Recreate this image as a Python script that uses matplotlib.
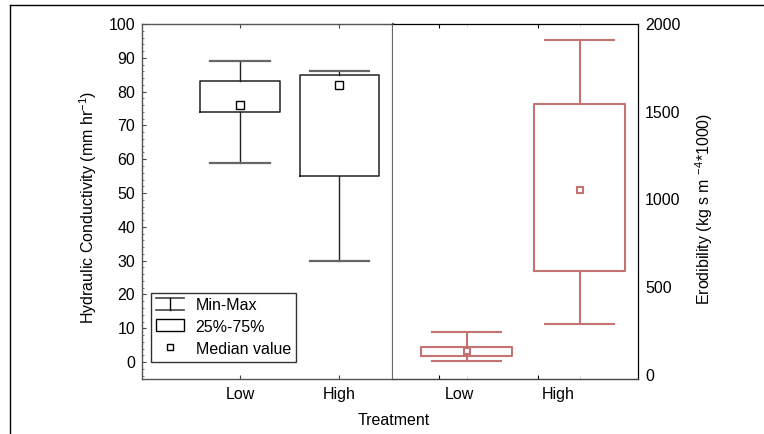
import matplotlib
matplotlib.use("Agg")
import matplotlib.pyplot as plt
from matplotlib.lines import Line2D
from matplotlib.patches import Rectangle
from matplotlib.legend_handler import HandlerBase

plt.rcParams['font.family'] = ['Liberation Sans', 'DejaVu Sans']
plt.rcParams['mathtext.fontset'] = 'custom'
plt.rcParams['mathtext.rm'] = 'Liberation Sans'
plt.rcParams['mathtext.default'] = 'regular'
FS = 11.5

# ---------------- data ----------------
categories = ['Low', 'High']
hc_min = [59, 30]
hc_q1 = [74, 55]
hc_med = [76, 82]
hc_q3 = [83, 85]
hc_max = [89, 86]

er_min = [80, 289]
er_q1 = [107, 595]
er_med = [137, 1055]
er_q3 = [160, 1544]
er_max = [243, 1909]

hc_ticks = [0, 10, 20, 30, 40, 50, 60, 70, 80, 90, 100]
er_ticks = [0, 500, 1000, 1500, 2000]

W, H = 764, 434
fig = plt.figure(figsize=(W / 100, H / 100), dpi=100)

# outer frame (top and left edges)
fig.add_artist(Line2D([10 / W, 763 / W], [1 - 5 / H, 1 - 5 / H], color='black', lw=1.0))
fig.add_artist(Line2D([10 / W, 10 / W], [1 - 5 / H, 0], color='black', lw=1.0))

bottom = (H - 379) / H
height = (379 - 24) / H
ax1 = fig.add_axes([142 / W, bottom, (393 - 142) / W, height])
ax2 = fig.add_axes([393 / W, bottom, (638 - 393) / W, height])


def stats(mn, q1, med, q3, mx):
    return [dict(whislo=a, q1=b, med=c, q3=d, whishi=e, fliers=[])
            for a, b, c, d, e in zip(mn, q1, med, q3, mx)]


# ---------------- left panel ----------------
pos = list(range(len(categories)))
BLK = '#222222'
ax1.bxp(stats(hc_min, hc_q1, hc_med, hc_q3, hc_max), positions=pos,
        widths=0.8, showfliers=False, manage_ticks=False,
        boxprops=dict(color=BLK, lw=1.1),
        whiskerprops=dict(color=BLK, lw=1.0),
        capprops=dict(color='#666666', lw=1.6),
        medianprops=dict(lw=0, alpha=0), capwidths=0.6)
ax1.plot(pos, hc_med, ls='none', marker='s', ms=5.5, mfc='white', mec='black', mew=1.0, zorder=5)
ax1.set_xlim(-0.985, 1.538)
ax1.set_ylim(-5, 100)
ax1.set_yticks(hc_ticks)
ax1.set_yticks(range(-4, 100, 2), minor=True)
ax1.set_xticks(pos)
ax1.set_xticklabels(categories, fontsize=FS)
ax1.tick_params(axis='y', which='major', direction='in', length=3, labelsize=FS, pad=5, color='#444444')
ax1.tick_params(axis='y', which='minor', direction='in', length=1.5, color='#666666')
ax1.tick_params(axis='x', which='major', direction='in', length=3, top=True, pad=6, color='#444444')
for s in ['left', 'top', 'bottom']:
    ax1.spines[s].set_color('#555555')
    ax1.spines[s].set_linewidth(1.0)
ax1.spines['right'].set_color('#666666')
ax1.spines['right'].set_linewidth(1.6)


# legend with custom handles
class MinMaxHandle:
    pass


class BoxHandle:
    pass


class MedHandle:
    pass


class HMinMax(HandlerBase):
    def create_artists(self, legend, orig, x0, y0, w, h, fontsize, trans):
        cx = x0 + w / 2
        return [Line2D([x0, x0 + w], [y0 + h, y0 + h], color='#444444', lw=1.2, transform=trans),
                Line2D([x0, x0 + w], [y0, y0], color='#444444', lw=1.2, transform=trans),
                Line2D([cx, cx], [y0, y0 + h], color='black', lw=1.0, transform=trans)]


class HBox(HandlerBase):
    def create_artists(self, legend, orig, x0, y0, w, h, fontsize, trans):
        return [Rectangle((x0, y0), w, h, fc='white', ec='black', lw=1.0, transform=trans)]


class HMed(HandlerBase):
    def create_artists(self, legend, orig, x0, y0, w, h, fontsize, trans):
        return [Line2D([x0 + w / 2], [y0 + h / 2], ls='none', marker='s', ms=5,
                       mfc='white', mec='black', mew=1.0, transform=trans)]


leg = ax1.legend([MinMaxHandle(), BoxHandle(), MedHandle()],
                 ['Min-Max', '25%-75%', 'Median value'],
                 handler_map={MinMaxHandle: HMinMax(), BoxHandle: HBox(), MedHandle: HMed()},
                 loc='lower left', bbox_to_anchor=(0.035, 0.047), borderaxespad=0,
                 fontsize=FS, frameon=True, fancybox=False, edgecolor='black',
                 handlelength=1.75, handleheight=0.8, handletextpad=0.7,
                 labelspacing=0.42, borderpad=0.35)
leg.get_frame().set_linewidth(1.0)

# ---------------- right panel ----------------
RED = '#c47272'
ax2.bxp(stats(er_min, er_q1, er_med, er_q3, er_max), positions=pos,
        widths=0.805, showfliers=False, manage_ticks=False,
        boxprops=dict(color=RED, lw=1.5),
        whiskerprops=dict(color=RED, lw=1.5),
        capprops=dict(color=RED, lw=1.5),
        medianprops=dict(lw=0, alpha=0), capwidths=0.61)
ax2.plot(pos, er_med, ls='none', marker='s', ms=4.5, mfc='white', mec=RED, mew=1.5, zorder=5)
ax2.set_xlim(-0.653, 1.515)
ax2.set_ylim(-23, 2000)
ax2.yaxis.tick_right()
ax2.set_yticks(er_ticks)
ax2.tick_params(axis='y', length=0, labelsize=FS, pad=5, left=False, right=False)
tick_x = [-0.246, 0.630]
label_x = [-0.069, 0.807]
ax2.set_xticks(tick_x)
ax2.set_xticklabels([])
ax2.set_xticks(pos, minor=True)
ax2.tick_params(axis='x', which='major', direction='in', length=3, top=True, color='black')
ax2.tick_params(axis='x', which='minor', direction='in', length=2, top=True, color='#cccccc')
for lx, lab in zip(label_x, categories):
    ax2.text(lx, -0.022, lab, transform=ax2.get_xaxis_transform(), ha='center', va='top', fontsize=FS)
ax2.spines['left'].set_visible(False)
for s in ['top', 'right']:
    ax2.spines[s].set_color('black')
    ax2.spines[s].set_linewidth(0.9)
ax2.spines['bottom'].set_color('#444444')
ax2.spines['bottom'].set_linewidth(1.0)

# ---------------- axis titles ----------------
fig.text(88 / W, 1 - 207 / H, 'Hydraulic Conductivity (mm hr$^{-1}$)', rotation=90,
         ha='center', va='center', fontsize=FS)
fig.text(704 / W, 1 - 209 / H, 'Erodibility (kg s m $^{-4}$*1000)', rotation=90,
         ha='center', va='center', fontsize=FS)
fig.text(394 / W, 1 - 420.5 / H, 'Treatment', ha='center', va='center', fontsize=FS)

fig.savefig('out.png', dpi=100)
